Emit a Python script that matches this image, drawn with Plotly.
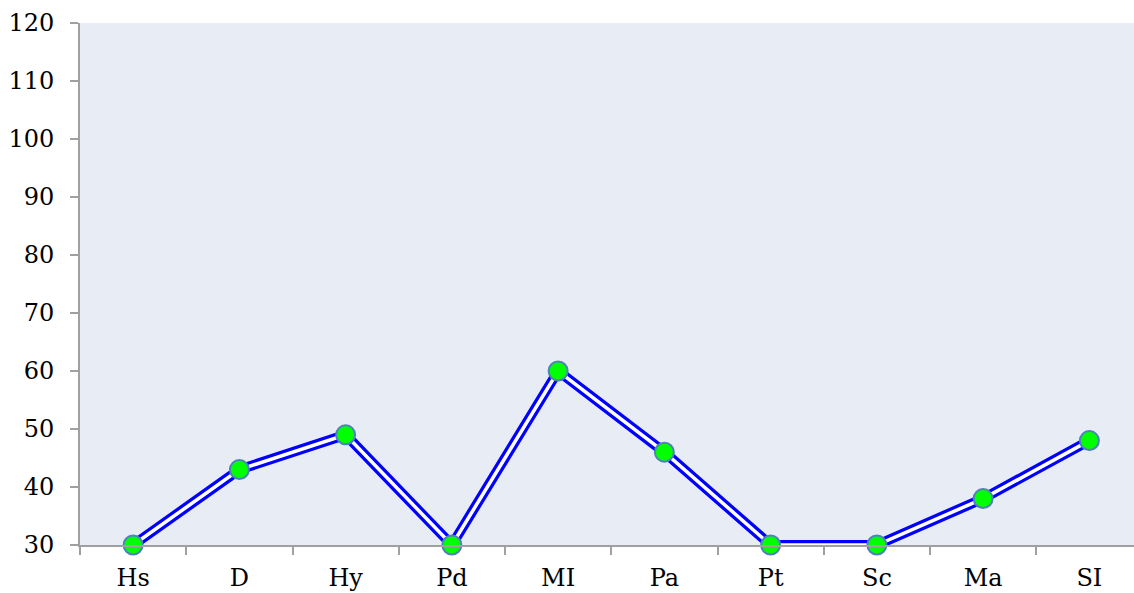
import plotly.graph_objects as go

categorias = ["Hs", "D", "Hy", "Pd", "MI", "Pa", "Pt", "Sc", "Ma", "SI"]
valores = [30, 43, 49, 30, 60, 46, 30, 30, 38, 48]
ticks_y = [30, 40, 50, 60, 70, 80, 90, 100, 110, 120]

fig = go.Figure()
# linea doble: azul gruesa y blanca fina encima
fig.add_trace(go.Scatter(x=categorias, y=valores, mode='lines',
                         line=dict(color='#0000FF', width=10), hoverinfo='skip'))
fig.add_trace(go.Scatter(x=categorias, y=valores, mode='lines+markers',
                         line=dict(color='white', width=3.5),
                         marker=dict(color='#00FF00', size=19,
                                     line=dict(color='#4F81BD', width=2))))

fig.update_traces(cliponaxis=False)
fig.update_layout(
    width=1134, height=593,
    showlegend=False,
    paper_bgcolor='white',
    plot_bgcolor='#E8ECF4',
    margin=dict(l=80, r=0, t=23, b=48),
    font=dict(family='DejaVu Serif', size=24, color='black'),
)
fig.update_xaxes(range=[-0.5, 9.42], showgrid=False, showline=True,
                 linecolor='#A0A0A0', linewidth=2, ticks='outside',
                 tickson='boundaries', ticklen=8, tickcolor='#A0A0A0',
                 tickwidth=2, automargin=False, tickfont=dict(size=24),
                 ticklabelstandoff=10)
fig.update_yaxes(range=[30, 120], tickvals=ticks_y, showgrid=False,
                 showline=True, linecolor='#A0A0A0', linewidth=2,
                 ticks='outside', ticklen=8, tickcolor='#A0A0A0',
                 tickwidth=2, zeroline=False, automargin=False,
                 tickfont=dict(size=24), ticklabelstandoff=11)

# quitar el margen del body para que no salgan barras de scroll
fig.write_html("out.html", config={'displayModeBar': False},
               post_script="document.body.style.margin='0';"
               "document.body.style.overflow='hidden';")
